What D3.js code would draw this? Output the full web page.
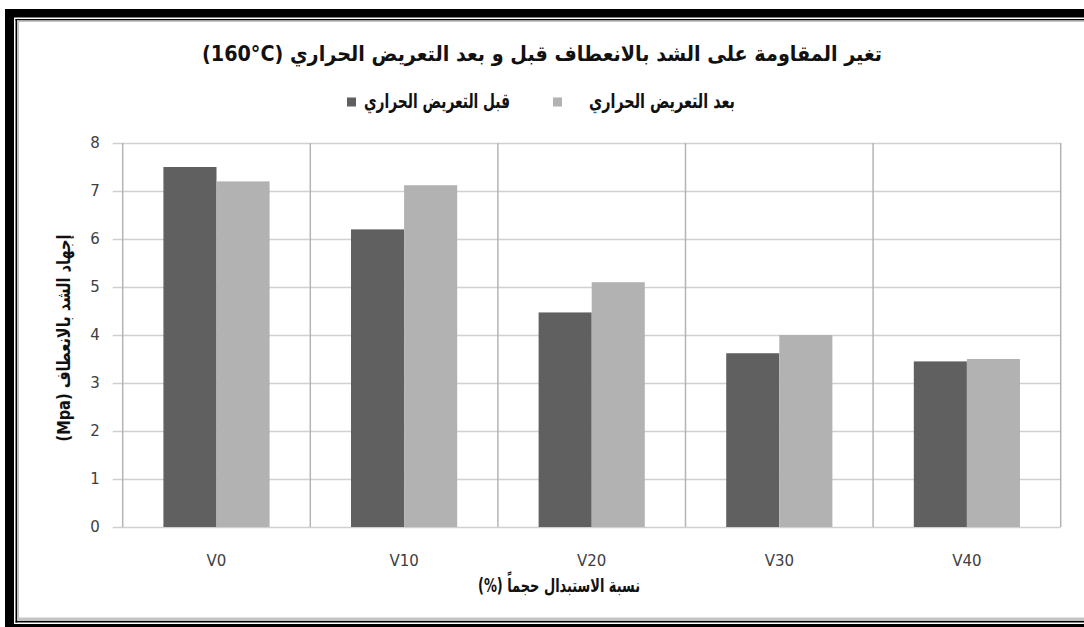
<!DOCTYPE html>
<html>
<head>
<meta charset="utf-8">
<script src="https://cdn.jsdelivr.net/npm/d3@7"></script>
<style>
  html, body { margin: 0; padding: 0; background: #fff; overflow: hidden; }
  svg { display: block; overflow: hidden; }
  text { font-family: "DejaVu Sans", sans-serif; }
</style>
</head>
<body>
<svg id="chart" width="1084" height="627" viewBox="0 0 1084 627"></svg>
<script>
// Flexural strength before and after heating (160°C)
const categories = ["V0", "V10", "V20", "V30", "V40"];
const beforeHeat = [7.5, 6.2, 4.47, 3.62, 3.45];
const afterHeat = [7.2, 7.12, 5.1, 4.0, 3.5];
const yTicks = [0, 1, 2, 3, 4, 5, 6, 7, 8];
const seriesNames = ["قبل التعريض الحراري", "بعد التعريض الحراري"];
// LRE/PDF keep the temperature reading left-to-right inside the Arabic line
const titleText = "تغير المقاومة على الشد بالانعطاف قبل و بعد التعريض الحراري (\u202A160°C\u202C)";
const xTitleText = "نسبة الاستبدال حجماً (%)";
const yTitleText = "إجهاد الشد بالانعطاف (Mpa)";

const series = [
  { name: seriesNames[0], values: beforeHeat, color: "#606060" },
  { name: seriesNames[1], values: afterHeat, color: "#b2b2b2" }
];

const W = 1084, H = 627;
const svg = d3.select("#chart");
svg.append("rect").attr("width", W).attr("height", H).attr("fill", "#fff");

// Framed border drawn as strips (left, top, bottom); it runs off the right edge
const strips = [
  // thick black band
  { x: 5, y: 9, w: 9, h: H - 9, fill: "#000" },
  { x: 5, y: 9, w: W - 5, h: 8.5, fill: "#000" },
  { x: 5, y: 624, w: W - 5, h: 3, fill: "#000" },
  // thin black line
  { x: 15.5, y: 19, w: 1.5, h: 603.5, fill: "#000" },
  { x: 15.5, y: 19, w: W - 15.5, h: 1.5, fill: "#000" },
  { x: 15.5, y: 621, w: W - 15.5, h: 1.5, fill: "#000" },
  // soft grey inner edge
  { x: 17, y: 20.5, w: 2, h: 600.5, fill: "#c4c4c4" },
  { x: 17, y: 20.5, w: W - 17, h: 1.5, fill: "#c4c4c4" },
  { x: 17, y: 617.5, w: W - 17, h: 3.5, fill: "#c4c4c4" }
];
svg.append("g").selectAll("rect").data(strips).join("rect")
  .attr("x", d => d.x).attr("y", d => d.y)
  .attr("width", d => d.w).attr("height", d => d.h)
  .attr("fill", d => d.fill);

// Scales
const plot = { left: 122.7, right: 1060.7, top: 143, bottom: 527 };
const y = d3.scaleLinear().domain([0, 8]).range([plot.bottom, plot.top]);
const x0 = d3.scaleBand().domain(categories).range([plot.left, plot.right]).padding(0);
const barW = x0.bandwidth() * 0.283;
const x1 = d3.scaleBand().domain(series.map(s => s.name)).range([0, barW * 2]).padding(0);

// Horizontal gridlines with tick stubs and value labels
const gy = svg.append("g").attr("transform", `translate(${plot.left},0)`);
gy.call(d3.axisLeft(y).tickValues(yTicks).tickSize(10).tickFormat(d3.format("d")));
gy.select(".domain").remove();
gy.selectAll(".tick line").attr("stroke", "#d0d0d0").attr("stroke-width", 1.5)
  .attr("x1", plot.right - plot.left).attr("x2", -10);
gy.selectAll(".tick text")
  .attr("x", -23)
  .attr("fill", "#404040")
  .style("font-size", "15px")
  .style("font-family", "DejaVu Sans, sans-serif");

// Vertical category separators and the value axis line
const sepX = categories.map(c => x0(c)).concat([plot.right]);
svg.append("g").selectAll("line").data(sepX).join("line")
  .attr("x1", d => d).attr("x2", d => d)
  .attr("y1", plot.top).attr("y2", plot.bottom)
  .attr("stroke", "#b4b4b4").attr("stroke-width", 1.5);

// Bars
const groups = svg.append("g").selectAll("g").data(categories).join("g")
  .attr("transform", c => `translate(${x0(c) + (x0.bandwidth() - barW * 2) / 2},0)`);
groups.selectAll("rect")
  .data((c, i) => series.map(s => ({ key: s.name, value: s.values[i], color: s.color })))
  .join("rect")
  .attr("x", d => x1(d.key))
  .attr("width", x1.bandwidth())
  .attr("y", d => y(d.value))
  .attr("height", d => y(0) - y(d.value))
  .attr("fill", d => d.color);

// Category labels
const gx = svg.append("g").attr("transform", `translate(0,${plot.bottom})`);
gx.call(d3.axisBottom(x0).tickSize(0).tickPadding(28));
gx.select(".domain").remove();
gx.selectAll(".tick text")
  .attr("fill", "#404040")
  .style("font-size", "15px")
  .style("font-family", "DejaVu Sans, sans-serif");

// Arabic label helper: bold, right-to-left embedding, squeezed to a set width
function arabicLabel(parent, text, size, width) {
  return parent.append("text")
    .attr("dominant-baseline", "middle")
    .attr("textLength", width)
    .attr("lengthAdjust", "spacingAndGlyphs")
    .style("font-weight", "bold")
    .style("font-size", size + "px")
    .attr("fill", "#111")
    .text("\u202B" + text + "\u202C");
}

// Title
arabicLabel(svg, titleText, 21, 680)
  .attr("x", 542).attr("y", 55).attr("text-anchor", "middle");

// Legend (right to left)
const legend = svg.append("g");
const legendItems = [
  { name: seriesNames[1], color: series[1].color, textRight: 735, sw: 553 },
  { name: seriesNames[0], color: series[0].color, textRight: 510, sw: 347 }
];
legendItems.forEach(it => {
  arabicLabel(legend, it.name, 20, 146)
    .attr("x", it.textRight).attr("y", 102).attr("text-anchor", "end");
  legend.append("rect")
    .attr("x", it.sw).attr("y", 97.5).attr("width", 9).attr("height", 9)
    .attr("fill", it.color);
});

// Axis titles
arabicLabel(svg, xTitleText, 19, 162)
  .attr("x", 559).attr("y", 586).attr("text-anchor", "middle");

arabicLabel(svg, yTitleText, 18, 207)
  .attr("transform", "translate(65,338) rotate(-90)")
  .attr("text-anchor", "middle");
</script>
</body>
</html>
